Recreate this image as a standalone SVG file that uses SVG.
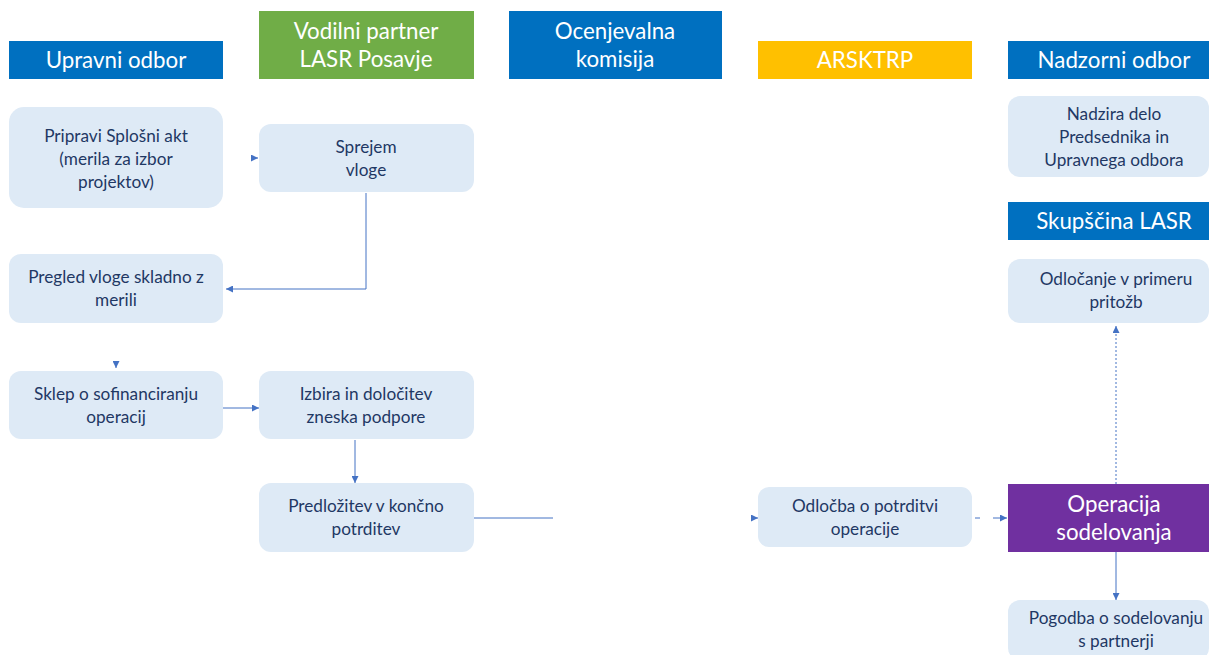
<svg xmlns="http://www.w3.org/2000/svg" width="1209" height="655" viewBox="0 0 1209 655">
<defs>
<style>
.box{fill:#DEEAF6}
.t{font-family:Lato,"Liberation Sans",sans-serif;font-size:17.2px;fill:#1F3864;text-anchor:middle}
.h{font-family:Lato,"Liberation Sans",sans-serif;font-size:22.3px;fill:#FFFFFF;text-anchor:middle}
.c{stroke:#4472C4;stroke-width:1;fill:none}
</style>
<marker id="ah" viewBox="0 0 10 10" refX="10" refY="5" markerWidth="7" markerHeight="7" markerUnits="userSpaceOnUse" orient="auto"><path d="M0,0 L10,5 L0,10 z" fill="#4472C4"/></marker>
</defs>
<rect width="1209" height="655" fill="#FFFFFF"/>

<g id="h-upravni"><rect x="9" y="41" width="214" height="38" fill="#0070C0"/><text class="h" x="116" y="68">Upravni odbor</text></g>
<g id="h-vodilni"><rect x="259" y="11" width="215" height="68" fill="#70AD47"/><text class="h" x="366" y="39">Vodilni partner</text><text class="h" x="366" y="67">LASR Posavje</text></g>
<g id="h-ocenjevalna"><rect x="509" y="11" width="213" height="68" fill="#0070C0"/><text class="h" x="615" y="39">Ocenjevalna</text><text class="h" x="615" y="67">komisija</text></g>
<g id="h-arsktrp"><rect x="758" y="41" width="214" height="38" fill="#FFC000"/><text class="h" x="865" y="68">ARSKTRP</text></g>
<g id="h-nadzorni"><rect x="1008" y="41" width="201" height="38" fill="#0070C0"/><text class="h" x="1114" y="68">Nadzorni odbor</text></g>
<g id="h-skupscina"><rect x="1008" y="202" width="201" height="38" fill="#0070C0"/><text class="h" x="1114" y="229">Skupščina LASR</text></g>
<g id="operacija"><rect x="1008" y="484" width="201" height="68" fill="#7030A0"/><text class="h" x="1114" y="512">Operacija</text><text class="h" x="1114" y="540">sodelovanja</text></g>

<g id="n-pripravi"><rect class="box" x="9" y="107" width="214" height="101" rx="15"/><text class="t" x="116" y="142">Pripravi Splošni akt</text><text class="t" x="116" y="165">(merila za izbor</text><text class="t" x="116" y="188">projektov)</text></g>
<g id="n-sprejem"><rect class="box" x="259" y="124" width="215" height="68" rx="12"/><text class="t" x="366" y="153">Sprejem</text><text class="t" x="366" y="176">vloge</text></g>
<g id="n-pregled"><rect class="box" x="9" y="254" width="214" height="69" rx="12"/><text class="t" x="116" y="283">Pregled vloge skladno z</text><text class="t" x="116" y="306">merili</text></g>
<g id="n-sklep"><rect class="box" x="9" y="371" width="214" height="68" rx="12"/><text class="t" x="116" y="400">Sklep o sofinanciranju</text><text class="t" x="116" y="423">operacij</text></g>
<g id="n-izbira"><rect class="box" x="259" y="371" width="215" height="68" rx="12"/><text class="t" x="366" y="400">Izbira in določitev</text><text class="t" x="366" y="423">zneska podpore</text></g>
<g id="n-predlozitev"><rect class="box" x="259" y="483" width="215" height="69" rx="12"/><text class="t" x="366" y="512">Predložitev v končno</text><text class="t" x="366" y="535">potrditev</text></g>
<g id="n-odlocba"><rect class="box" x="758" y="487" width="214" height="60" rx="11"/><text class="t" x="865" y="512">Odločba o potrditvi</text><text class="t" x="865" y="535">operacije</text></g>
<g id="n-nadzira"><rect class="box" x="1008" y="96" width="201" height="81" rx="12"/><text class="t" x="1114" y="120">Nadzira delo</text><text class="t" x="1114" y="143">Predsednika in</text><text class="t" x="1114" y="166">Upravnega odbora</text></g>
<g id="n-odlocanje"><rect class="box" x="1008" y="259" width="201" height="64" rx="12"/><text class="t" x="1116" y="285">Odločanje v primeru</text><text class="t" x="1116" y="308">pritožb</text></g>
<g id="n-pogodba"><rect class="box" x="1008" y="600" width="201" height="60" rx="12"/><text class="t" x="1116" y="624">Pogodba o sodelovanju</text><text class="t" x="1116" y="647">s partnerji</text></g>

<g id="connectors">
<path class="c" d="M252,158 L258,158" marker-end="url(#ah)"/>
<path class="c" d="M366,193 L366,289 L226,289" marker-end="url(#ah)"/>
<path class="c" d="M116,362 L116,368" marker-end="url(#ah)"/>
<path class="c" d="M223,408 L259,408" marker-end="url(#ah)"/>
<path class="c" d="M355,440 L355,483" marker-end="url(#ah)"/>
<path class="c" d="M474,518 L553,518"/>
<path class="c" d="M751,518 L758,518" marker-end="url(#ah)"/>
<path class="c" d="M975,518 L980,518"/>
<path class="c" d="M993,518 L1007,518" marker-end="url(#ah)"/>
<path class="c" d="M1116,484 L1116,326" stroke-dasharray="2,2" marker-end="url(#ah)"/>
<path class="c" d="M1116,552 L1116,600" marker-end="url(#ah)"/>
</g>
</svg>
